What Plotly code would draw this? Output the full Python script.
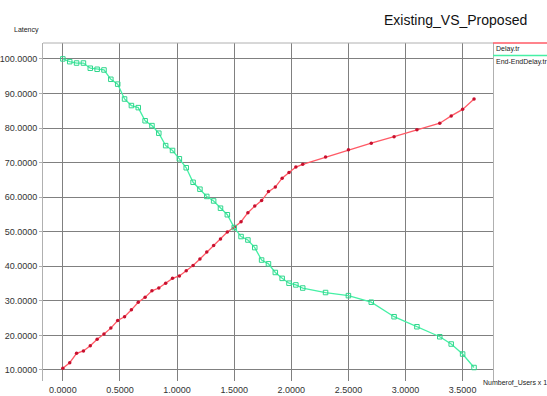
import plotly.graph_objects as go

users = [0.00, 0.06, 0.12, 0.18, 0.24, 0.30, 0.36, 0.42, 0.48, 0.54,
         0.60, 0.66, 0.72, 0.78, 0.84, 0.90, 0.96, 1.02, 1.08, 1.14,
         1.20, 1.26, 1.32, 1.38, 1.44, 1.50, 1.56, 1.62, 1.68, 1.74,
         1.80, 1.86, 1.92, 1.98, 2.04, 2.10, 2.30, 2.50, 2.70, 2.90,
         3.10, 3.30, 3.40, 3.50, 3.60]

delay_tr = [10.5, 12.1, 14.8, 15.5, 17.0, 18.9, 20.4, 22.1, 24.3, 25.4,
            27.4, 29.6, 31.0, 32.9, 33.7, 35.1, 36.5, 37.2, 38.7, 40.2,
            42.1, 44.1, 46.0, 47.9, 49.9, 51.3, 52.9, 55.5, 57.4, 59.0,
            61.6, 62.9, 65.5, 67.1, 68.7, 69.5, 71.6, 73.7, 75.6, 77.5,
            79.5, 81.4, 83.5, 85.4, 88.4]

end_end_delay_tr = [100.0, 99.2, 98.8, 98.8, 97.3, 97.0, 96.8, 94.1, 92.7, 88.4,
                    86.5, 85.9, 82.1, 80.7, 78.5, 74.9, 73.5, 71.1, 68.5, 64.3,
                    62.3, 60.2, 58.9, 56.8, 54.9, 51.2, 48.6, 47.6, 45.4, 41.8,
                    40.7, 38.2, 36.5, 35.1, 34.6, 33.7, 32.4, 31.5, 29.6, 25.4,
                    22.5, 19.6, 17.5, 14.6, 10.7]

x_ticks = [0.0, 0.5, 1.0, 1.5, 2.0, 2.5, 3.0, 3.5]
y_ticks = [10, 20, 30, 40, 50, 60, 70, 80, 90, 100]

RED_LINE = "#ff5a66"
RED_MARK = "#c8102e"
GREEN_LINE = "#45f0a5"
GREEN_MARK = "#2fd68c"

fig = go.Figure()
fig.add_trace(go.Scatter(
    x=users, y=delay_tr, name="Delay.tr", mode="lines+markers",
    line=dict(color=RED_LINE, width=1.3),
    marker=dict(symbol="circle", size=3.5, color=RED_MARK),
))
fig.add_trace(go.Scatter(
    x=users, y=end_end_delay_tr, name="End-EndDelay.tr", mode="lines+markers",
    line=dict(color=GREEN_LINE, width=1.3),
    marker=dict(symbol="square-open", size=4.5, color=GREEN_MARK, line=dict(width=1)),
))

font = "Liberation Sans, Arial, sans-serif"

L, R, T, B = 43, 493, 43, 381
PW, PH = R - L, B - T

fig.update_layout(
    width=547, height=396,
    margin=dict(l=L, r=547 - R, t=T, b=396 - B, autoexpand=False),
    paper_bgcolor="white", plot_bgcolor="white",
    showlegend=False,
    font=dict(family=font, size=9, color="#333333"),
    xaxis=dict(
        range=[-0.174, 3.766], tickvals=x_ticks, tickformat=".4f",
        showgrid=True, gridcolor="#808080", gridwidth=1.2,
        zeroline=False, showline=False, ticks="", ticklen=0,
        ticklabelstandoff=2,
        automargin=False,
        tickfont=dict(size=9, color="#333333"),
    ),
    yaxis=dict(
        range=[6.8, 104.6], tickvals=y_ticks, tickformat=".4f",
        showgrid=True, gridcolor="#808080", gridwidth=1.2,
        zeroline=False, showline=True, linecolor="#b0b0b0", linewidth=1,
        mirror=True, ticks="outside", ticklen=3, tickcolor="#b0b0b0",
        automargin=False,
        tickfont=dict(size=9, color="#333333"),
    ),
)

# top border of plot area
fig.add_shape(type="line", xref="paper", yref="paper", x0=0, x1=1, y0=1, y1=1,
              line=dict(color="#b0b0b0", width=1))

# legend box at top right (drawn as lines + text)
fig.add_shape(type="line", xref="paper", yref="paper", x0=1, x1=1 + 60 / PW, y0=1, y1=1,
              line=dict(color=RED_LINE, width=1.5))
fig.add_shape(type="line", xref="paper", yref="paper", x0=1, x1=1 + 60 / PW,
              y0=1 - 12.5 / PH, y1=1 - 12.5 / PH,
              line=dict(color=GREEN_LINE, width=1.5))
fig.add_annotation(text="Delay.tr", xref="paper", yref="paper", x=1 + 1 / PW, y=1 - 6 / PH,
                   xanchor="left", yanchor="middle", showarrow=False,
                   font=dict(family=font, size=7, color="#222222"))
fig.add_annotation(text="End-EndDelay.tr", xref="paper", yref="paper", x=1 + 1 / PW, y=1 - 18.5 / PH,
                   xanchor="left", yanchor="middle", showarrow=False,
                   font=dict(family=font, size=7, color="#222222"))

# title and axis labels
fig.add_annotation(text="Existing_VS_Proposed", xref="paper", yref="paper",
                   x=(455 - L) / PW, y=1 + (T - 20) / PH,
                   xanchor="center", yanchor="middle", showarrow=False,
                   font=dict(family=font, size=14, color="#111111"))
fig.add_annotation(text="Latency", xref="paper", yref="paper",
                   x=(12 - L) / PW, y=1 + (T - 30) / PH,
                   xanchor="left", yanchor="middle", showarrow=False,
                   font=dict(family=font, size=7, color="#222222"))
fig.add_annotation(text="Numberof_Users x 1", xref="paper", yref="paper",
                   x=(481 - L) / PW, y=-(383 - B) / PH,
                   xanchor="left", yanchor="middle", showarrow=False,
                   font=dict(family=font, size=7, color="#222222"))

fig.write_html(
    "out.html",
    config={"displayModeBar": False},
    post_script="document.body.style.margin='0';document.body.style.padding='0';",
)
